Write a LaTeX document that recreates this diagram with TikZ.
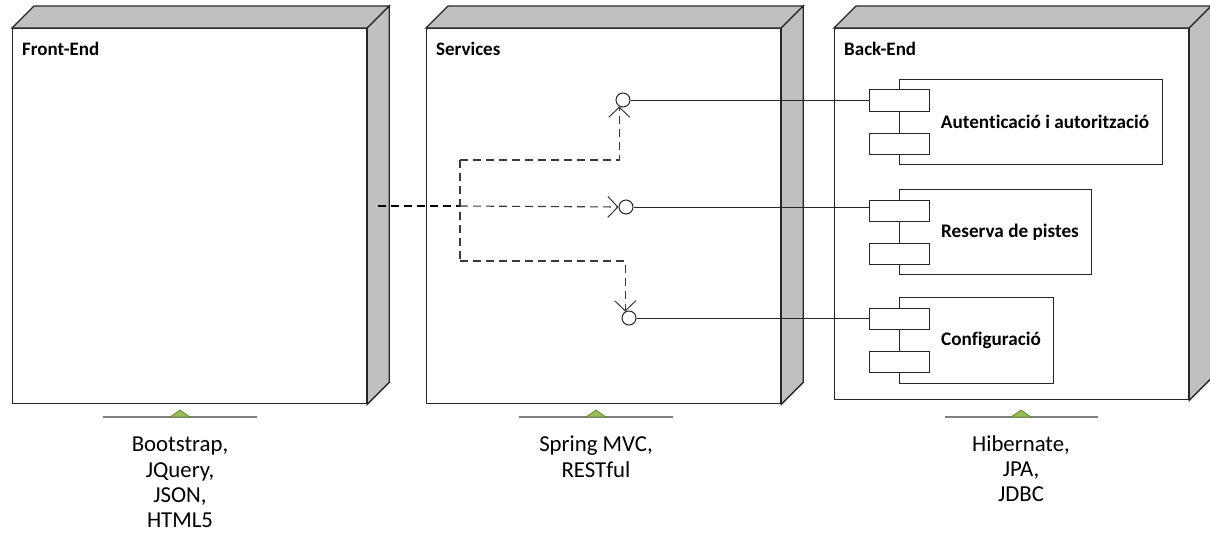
\documentclass[tikz,border=0pt]{standalone}
\usepackage{fontspec}
\setmainfont{Carlito}[Ligatures=NoCommon]
\usetikzlibrary{arrows.meta}

\definecolor{sideface}{HTML}{C0C0C0}
\definecolor{edge}{HTML}{262626}
\definecolor{specgreen}{HTML}{9BBB59}
\definecolor{specgreenedge}{HTML}{6B8A3A}
\definecolor{specline}{HTML}{7F7F7F}
\definecolor{depline}{HTML}{3A3A3A}

\tikzset{
  devface/.style={draw=edge, line width=1.3pt, fill=white, anchor=north west,
    inner sep=0pt, minimum width=354pt},
  side3d/.style={draw=edge, line width=1.3pt, fill=sideface, line join=miter},
  devtitle/.style={anchor=base west, inner sep=0pt, font=\fontsize{19}{22}\selectfont\bfseries},
  comp/.style={draw=edge, line width=1pt, fill=white, anchor=north west, inner sep=0pt},
  port/.style={comp, minimum width=60pt},
  complabel/.style={inner sep=0pt, font=\fontsize{19.2}{22}\selectfont\bfseries},
  lolli/.style={circle, draw=edge, line width=1pt, fill=white, inner sep=0pt, minimum size=14pt},
  wire/.style={draw=edge, line width=1pt},
  dep/.style={draw=depline, line width=1.1pt, dash pattern=on 8pt off 5pt},
  depmain/.style={draw=black, line width=1.8pt, dash pattern=on 8pt off 5pt},
  deptip/.style={-{Straight Barb[length=10pt,width=21pt,line width=1pt]}},
  specbar/.style={draw=specline, line width=1.5pt},
  spectri/.style={fill=specgreen, draw=specgreenedge, line width=0.8pt},
  spectext/.style={anchor=north, align=center, inner sep=0pt,
    font=\fontsize{22.8}{25.3}\selectfont},
}

% extruded faces (top and right) of a device box
\newcommand\devdepth[1]{%
  \filldraw[side3d] (#1.north west) -- ++(22,-22)
    -- ([shift={(22,-22)}]#1.north east) -- (#1.north east) -- cycle;
  \filldraw[side3d] (#1.north east) -- ([shift={(22,-22)}]#1.north east)
    -- ([shift={(22,-22)}]#1.south east) -- (#1.south east) -- cycle;
}

% deployment specification marker: bar with a small triangle
\newcommand\specmark[3]{% centre x, left x, right x
  \draw[specbar] (#2,417) -- (#3,417);
  \filldraw[spectri] (#1-10,417) -- (#1+10,417) -- (#1,410) -- cycle;
}

\begin{document}
\begin{tikzpicture}[x=1pt, y=-1pt]
\useasboundingbox (0,0) rectangle (1210,542);

% device boxes
\node[devface, minimum height=375pt] (fe) at (12,28) {};
\devdepth{fe}
\node[devface, minimum height=375pt] (sv) at (426,28) {};
\devdepth{sv}
\node[devface, minimum height=371pt] (be) at (834,28) {};
\devdepth{be}

\node[devtitle] (feT) at (22,55) {Front-End};
\node[devtitle] (svT) at (436,55) {Services};
\node[devtitle] (beT) at (844,55) {Back-End};

% back-end components
\node[comp, minimum width=263pt, minimum height=85pt] (c1) at (899,79) {};
\node[port, minimum height=22pt] (c1a) at (869,89) {};
\node[port, minimum height=21pt] (c1b) at (869,133) {};
\node[complabel] (t1) at (1045,122) {Autenticació i autorització};

\node[comp, minimum width=192pt, minimum height=85pt] (c2) at (899,189) {};
\node[port, minimum height=21pt] (c2a) at (869,200) {};
\node[port, minimum height=21pt] (c2b) at (869,243) {};
\node[complabel] (t2) at (1010,232) {Reserva de pistes};

\node[comp, minimum width=154pt, minimum height=86pt] (c3) at (899,297) {};
\node[port, minimum height=21pt] (c3a) at (869,308) {};
\node[port, minimum height=21pt] (c3b) at (869,351) {};
\node[complabel] (t3) at (991,340) {Configuració};

% provided interfaces
\node[lolli] (l1) at (623,100) {};
\node[lolli] (l2) at (626,207) {};
\node[lolli] (l3) at (629,318) {};
\draw[wire] (l1.east) -- (l1.east -| c1a.west);
\draw[wire] (l2.east) -- (l2.east -| c2a.west);
\draw[wire] (l3.east) -- (l3.east -| c3a.west);

% dependencies from the front-end
\coordinate (src) at (378,206);
\coordinate (jm) at (460,206);
\coordinate (jt) at (460,160);
\coordinate (jb) at (460,261);
\draw[depmain] (src) -- (jm);
\draw[dep, deptip] (jm) -- (l2.west);
\draw[dep] (jt) -- (jb);
\draw[dep, deptip] (jt) -| (l1.240);
\draw[dep, deptip] (jb) -| (l3.120);

% deployment specifications
\specmark{180}{103}{257}
\specmark{596}{519}{673}
\specmark{1021}{945}{1098}
\node[spectext] (feS) at (180,437) {Bootstrap,\\JQuery,\\JSON,\\HTML5};
\node[spectext] (svS) at (596,436) {Spring MVC,\\RESTful};
\node[spectext] (beS) at (1021,435) {Hibernate,\\JPA,\\JDBC};
\end{tikzpicture}
\end{document}
